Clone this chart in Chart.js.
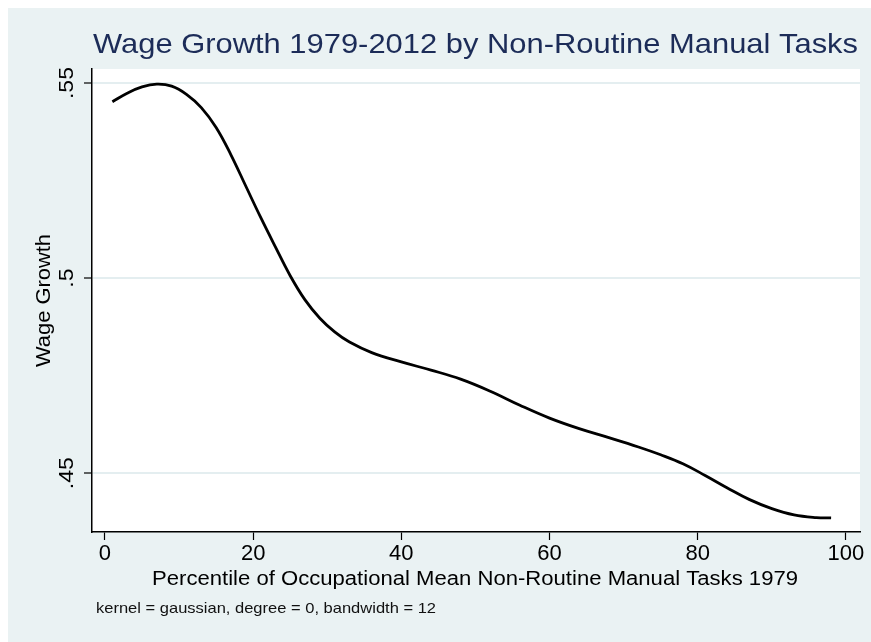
<!DOCTYPE html>
<html>
<head>
<meta charset="utf-8">
<script src="https://cdn.jsdelivr.net/npm/chart.js@4"></script>
<style>
  html, body { margin: 0; padding: 0; background: #fff; }
  canvas { display: block; }
</style>
</head>
<body>
<canvas id="chart" width="871" height="642"></canvas>
<script>
// smoothed curve
const percentile = [1, 3, 5, 7, 9, 11, 13, 15, 17, 19, 21, 23, 25, 27, 29, 31, 33, 36, 40, 44, 48, 52, 56, 60, 64, 68, 72, 75, 78, 81, 84, 87, 90, 93, 96, 98];
const wageGrowth = [.5452, .5474, .5490, .5497, .5492, .5471, .5437, .5386, .5316, .5236, .5156, .5080, .5006, .4944, .4897, .4862, .4836, .4809, .4785, .4764, .4741, .4710, .4674, .4641, .4614, .4591, .4567, .4547, .4524, .4494, .4462, .4432, .4409, .4393, .4386, .4385];
const xTicks = [0, 20, 40, 60, 80, 100];
const yTicks = [.45, .5, .55];
const yTickLabels = [".45", ".5", ".55"];

const titleText = "Wage Growth 1979-2012 by Non-Routine Manual Tasks";
const xTitle = "Percentile of Occupational Mean Non-Routine Manual Tasks 1979";
const yTitle = "Wage Growth";
const noteText = "kernel = gaussian, degree = 0, bandwidth = 12";

const FONT = '"Liberation Sans", Arial, sans-serif';

// stata text comes out a bit wider than our font, so stretch to the measured width
function fitText(ctx, text, x, y, width) {
  const w = ctx.measureText(text).width;
  ctx.save();
  ctx.translate(x, y);
  ctx.scale(width / w, 1);
  ctx.fillText(text, 0, 0);
  ctx.restore();
}

const stataLook = {
  id: "stataLook",
  beforeDraw(chart) {
    const { ctx, chartArea } = chart;
    ctx.save();
    ctx.fillStyle = "#eaf2f3";
    ctx.fillRect(8, 8, chart.width - 8, chart.height - 8);
    ctx.fillStyle = "#fff";
    ctx.fillRect(chartArea.left, chartArea.top, chartArea.right - chartArea.left, chartArea.bottom - chartArea.top);
    ctx.restore();
  },
  afterDraw(chart) {
    const { ctx, chartArea } = chart;
    const yScale = chart.scales.y;
    ctx.save();
    ctx.textAlign = "center";
    ctx.textBaseline = "alphabetic";

    // title
    ctx.fillStyle = "#1c2c58";
    ctx.font = "28px " + FONT;
    fitText(ctx, titleText, 475.5, 53, 765);

    // y tick labels, rotated
    ctx.fillStyle = "#000";
    ctx.font = "21px " + FONT;
    yTicks.forEach((v, i) => {
      const py = yScale.getPixelForValue(v);
      ctx.save();
      ctx.translate(73, py);
      ctx.rotate(-Math.PI / 2);
      ctx.scale(1.1, 1);
      ctx.fillText(yTickLabels[i], 0, 0);
      ctx.restore();
    });

    // y axis title
    ctx.save();
    ctx.font = "21px " + FONT;
    ctx.translate(50, (chartArea.top + chartArea.bottom) / 2);
    ctx.rotate(-Math.PI / 2);
    fitText(ctx, yTitle, 0, 0, 133);
    ctx.restore();

    // x axis title
    ctx.font = "20px " + FONT;
    fitText(ctx, xTitle, 475, 585, 646);

    // note
    ctx.font = "15px " + FONT;
    ctx.textAlign = "left";
    ctx.fillStyle = "#111";
    fitText(ctx, noteText, 96, 613, 340);

    ctx.restore();
  }
};

new Chart(document.getElementById("chart"), {
  type: "line",
  data: {
    datasets: [{
      data: percentile.map((p, i) => ({ x: p, y: wageGrowth[i] })),
      borderColor: "#000",
      borderWidth: 2.8,
      pointRadius: 0,
      fill: false,
      tension: 0.4
    }]
  },
  options: {
    responsive: false,
    animation: false,
    layout: { padding: { top: 69, right: 11, bottom: 0, left: 0 } },
    plugins: {
      legend: { display: false },
      title: { display: false },
      tooltip: { enabled: false }
    },
    scales: {
      x: {
        type: "linear",
        min: -1.75,
        max: 101.9,
        afterBuildTicks: (s) => { s.ticks = xTicks.map(v => ({ value: v })); },
        afterFit: (s) => { s.height = 110; },
        ticks: {
          color: "#000",
          font: { family: FONT, size: 22 },
          padding: 1,
          maxRotation: 0,
          callback: (v) => String(v)
        },
        grid: {
          drawOnChartArea: false,
          tickLength: 8,
          tickColor: "#000",
          tickWidth: 1.2
        },
        border: { display: true, color: "#000", width: 1.5 }
      },
      y: {
        type: "linear",
        min: 0.4349,
        max: 0.5536,
        afterBuildTicks: (s) => { s.ticks = yTicks.map(v => ({ value: v })); },
        afterFit: (s) => { s.width = 92; },
        ticks: { display: false },
        grid: {
          color: "#e4eef0",
          lineWidth: 2,
          tickLength: 8,
          tickColor: "#000",
          tickWidth: 1.2
        },
        border: { display: true, color: "#000", width: 1.5 }
      }
    }
  },
  plugins: [stataLook]
});
</script>
</body>
</html>
